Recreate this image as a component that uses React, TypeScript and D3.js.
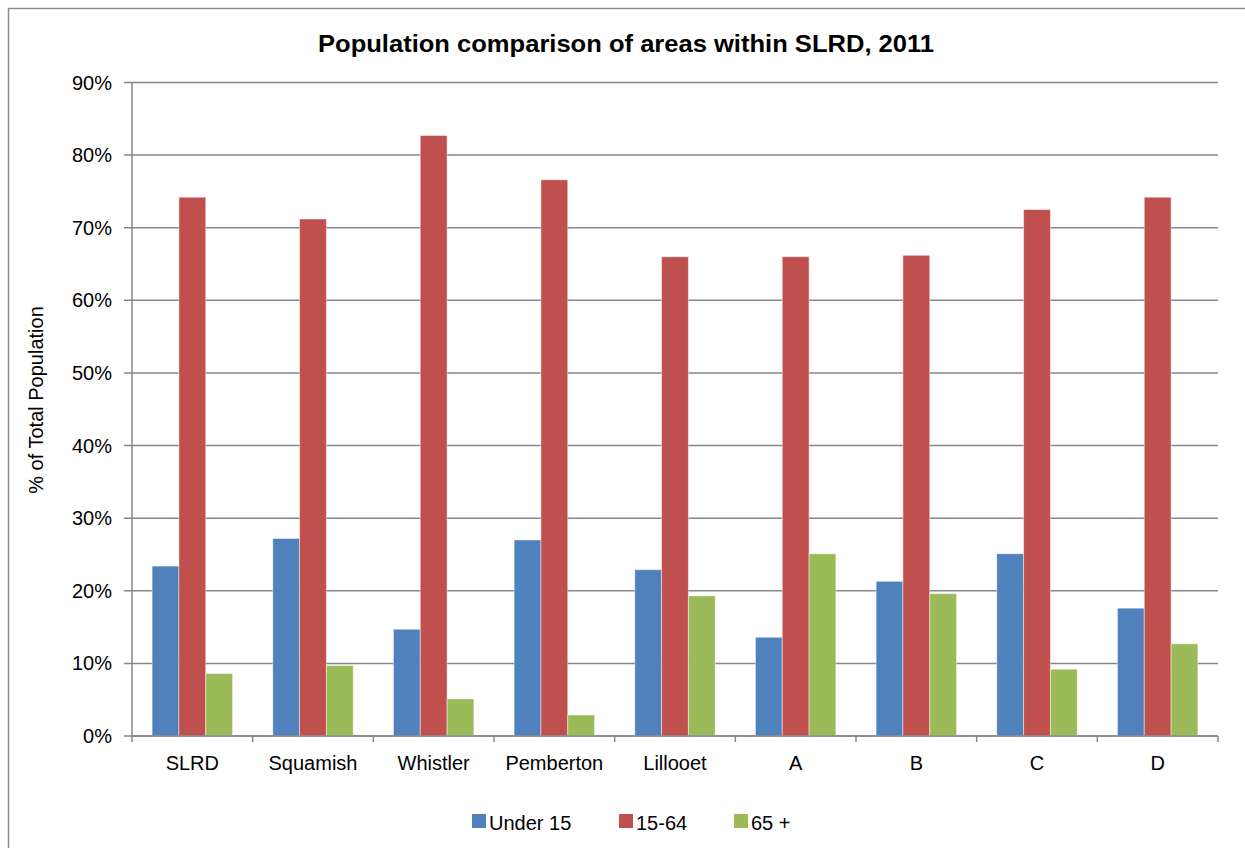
import React from "react";
import * as d3 from "d3";

const categories = ["SLRD", "Squamish", "Whistler", "Pemberton", "Lillooet", "A", "B", "C", "D"];
const seriesNames = ["Under 15", "15-64", "65 +"];
const under15 = [23.4, 27.2, 14.7, 27.0, 22.9, 13.6, 21.3, 25.1, 17.6];
const age15to64 = [74.2, 71.2, 82.7, 76.6, 66.0, 66.0, 66.2, 72.5, 74.2];
const over65 = [8.6, 9.7, 5.1, 2.9, 19.3, 25.1, 19.6, 9.2, 12.7];
const yTicks = [0, 10, 20, 30, 40, 50, 60, 70, 80, 90];
const colors = ["#4F81BD", "#C0504D", "#9BBB59"];

const W = 1245;
const H = 848;
const plot = { left: 132, right: 1218, top: 82.5, bottom: 736 };
const FONT = "'Liberation Sans', Arial, sans-serif";
const GRID = "#878787";

export default function App() {
  const values = [under15, age15to64, over65];
  const x = d3
    .scaleBand<string>()
    .domain(categories)
    .range([plot.left, plot.right])
    .paddingInner(1 / 3)
    .paddingOuter(1 / 6);
  const xs = d3.scaleBand<string>().domain(seriesNames).range([0, x.bandwidth()]);
  const y = d3.scaleLinear().domain([0, 90]).range([plot.bottom, plot.top]);
  const step = x.step();
  const boundaries = d3.range(categories.length + 1).map((i) => plot.left + i * step);

  return (
    <svg
      width={W}
      height={H}
      style={{ position: "absolute", left: 0, top: 0, background: "#fff" }}
      fontFamily={FONT}
    >
      <rect x={8.5} y={8.5} width={W + 20} height={H + 20} fill="#fff" stroke="#8c8c8c" strokeWidth={1.5} />

      <text
        x={626}
        y={52}
        textAnchor="middle"
        fontSize={24}
        fontWeight="bold"
        fill="#000"
        textLength={616}
        lengthAdjust="spacingAndGlyphs"
      >
        Population comparison of areas within SLRD, 2011
      </text>

      {/* gridlines */}
      {yTicks.map((t) => (
        <line key={"g" + t} x1={plot.left - 8} x2={plot.right} y1={y(t)} y2={y(t)} stroke={GRID} strokeWidth={1.5} />
      ))}
      {yTicks.map((t) => (
        <text key={"yl" + t} x={112} y={y(t)} dy="0.35em" textAnchor="end" fontSize={20} fill="#000">
          {t}%
        </text>
      ))}

      {/* bars */}
      {seriesNames.map((s, si) =>
        categories.map((c, ci) => (
          <rect
            key={s + c}
            x={(x(c) as number) + (xs(s) as number)}
            y={y(values[si][ci])}
            width={xs.bandwidth()}
            height={plot.bottom - y(values[si][ci])}
            fill={colors[si]}
            stroke="rgba(255,255,255,0.45)"
            strokeWidth={1}
          />
        ))
      )}

      {/* axes */}
      <line x1={plot.left} x2={plot.left} y1={plot.top} y2={plot.bottom} stroke={GRID} strokeWidth={1.5} />
      <line x1={plot.left} x2={plot.right} y1={plot.bottom} y2={plot.bottom} stroke={GRID} strokeWidth={1.5} />
      {boundaries.map((bx, i) => (
        <line key={"xt" + i} x1={bx} x2={bx} y1={plot.bottom} y2={plot.bottom + 6} stroke={GRID} strokeWidth={1.5} />
      ))}
      {categories.map((c) => (
        <text
          key={"xl" + c}
          x={(x(c) as number) + x.bandwidth() / 2}
          y={770}
          textAnchor="middle"
          fontSize={20}
          fill="#000"
        >
          {c}
        </text>
      ))}

      <text transform="translate(43,400) rotate(-90)" textAnchor="middle" fontSize={20} fill="#000">
        % of Total Population
      </text>

      {/* legend */}
      {[
        { x: 472, tx: 489 },
        { x: 619, tx: 636 },
        { x: 734, tx: 751 },
      ].map((l, i) => (
        <g key={"lg" + i}>
          <rect x={l.x} y={814} width={14} height={14} fill={colors[i]} />
          <text x={l.tx} y={830} fontSize={20} fill="#000">
            {seriesNames[i]}
          </text>
        </g>
      ))}
    </svg>
  );
}
